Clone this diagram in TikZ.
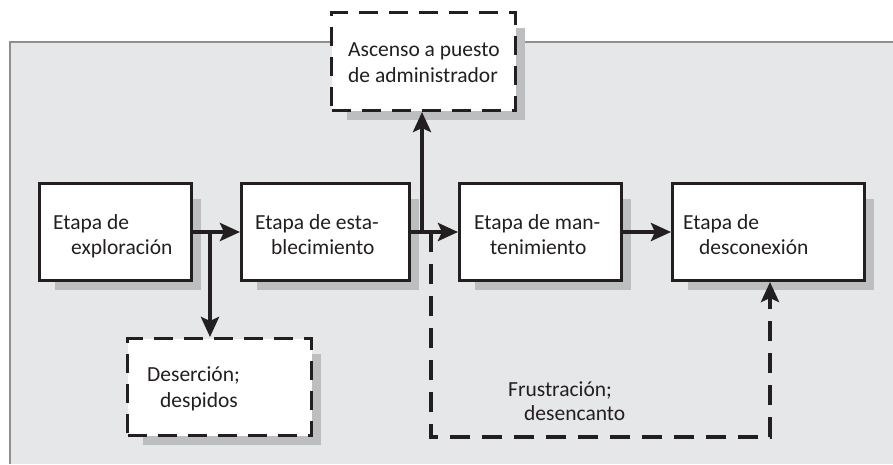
\documentclass[tikz,border=0pt]{standalone}
\usepackage{fontspec}
\setmainfont{Carlito}
\usetikzlibrary{arrows.meta}
\definecolor{panelfill}{HTML}{E6E7E8}
\definecolor{panelline}{HTML}{8E8F91}
\definecolor{shadowgray}{HTML}{BCBEC0}
\definecolor{ink}{HTML}{231F20}
\pgfdeclarelayer{bg}
\pgfdeclarelayer{shadowlayer}
\pgfsetlayers{bg,shadowlayer,main}
\begin{document}
\begin{tikzpicture}[x=1pt,y=-1pt,
  stagebox/.style={draw=ink, fill=white, line width=3pt, inner sep=0pt, minimum height=97pt},
  outbox/.style={stagebox, dash pattern=on 19pt off 11pt},
  txt/.style={anchor=base west, inner sep=0pt, text=ink, font=\fontsize{21.5}{25}\selectfont},
  flow/.style={draw=ink, line width=4pt, line join=miter, -{Stealth[length=20pt,width=18pt,inset=4pt]}},
  dflow/.style={flow, dash pattern=on 20pt off 12pt}]
\useasboundingbox (0,0) rectangle (893,464);
\begin{pgfonlayer}{bg}
  \fill[white] (0,0) rectangle (893,464);
  \fill[panelfill] (10,42) rectangle (893,464);
  \draw[panelline, line width=2pt] (10,464) -- (10,42) -- (893,42);
\end{pgfonlayer}

% boxes
\node[stagebox, minimum width=152pt] (b1) at (115.5,232) {};
\node[stagebox, minimum width=168pt] (b2) at (325.5,232) {};
\node[stagebox, minimum width=162pt] (b3) at (540.5,232) {};
\node[stagebox, minimum width=192pt] (b4) at (768.5,232) {};
\node[outbox, minimum width=184pt, minimum height=98pt] (asc) at (423.5,61.5) {};
\node[outbox, minimum width=184pt] (des) at (219.5,387) {};

\begin{pgfonlayer}{shadowlayer}
  \foreach \n in {b1,b2,b3,b4,asc,des}
    \fill[shadowgray] ([shift={(17,17)}]\n.north west) rectangle ([shift={(7.5,8)}]\n.south east);
\end{pgfonlayer}

% texts
\node[txt] (t1a) at (53,229) {Etapa de};
\node[txt] (t1b) at (71,254) {exploración};
\node[txt] (t2a) at (255,229) {Etapa de esta-};
\node[txt] (t2b) at (271,254) {blecimiento};
\node[txt] (t3a) at (474,229) {Etapa de man-};
\node[txt] (t3b) at (490,254) {tenimiento};
\node[txt] (t4a) at (683,229) {Etapa de};
\node[txt] (t4b) at (699,254) {desconexión};
\node[txt] (tasca) at (348,56) {Ascenso a puesto};
\node[txt] (tascb) at (348,82) {de administrador};
\node[txt] (tdesa) at (147,381) {Deserción;};
\node[txt] (tdesb) at (160,407) {despidos};
\node[txt] (tfra) at (508,396) {Frustración;};
\node[txt] (tfrb) at (524,420) {desencanto};

% connectors
\draw[flow] (b1) -- (b2);
\draw[flow] (b2) -- (b3);
\draw[flow] (b3) -- (b4);
\coordinate (j1) at (210,232);
\coordinate (j2) at (422,232);
\coordinate (j3) at (431,232);
\coordinate (k1) at (431,437);
\coordinate (k2) at (770,437);
\draw[flow] (j1) -- (j1 |- des.north);
\draw[flow] (j2) -- (j2 |- asc.south);
\draw[dflow] (j3) -- (k1) -- (k2) -- (k2 |- b4.south);
\end{tikzpicture}
\end{document}
